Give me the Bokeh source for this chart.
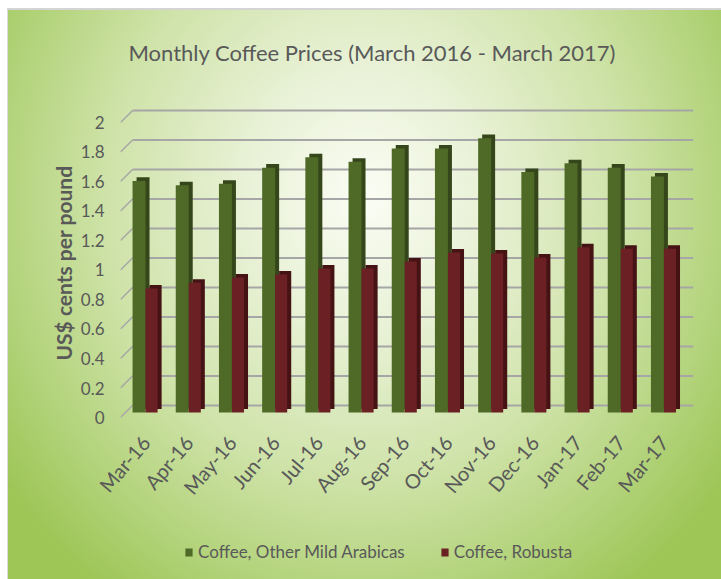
import numpy as np
from bokeh.plotting import figure
from bokeh.models import Range1d, FixedTicker, Legend, LegendItem
from bokeh.layouts import column
from bokeh.embed import file_html
from bokeh.resources import INLINE

# ---- data ----
months = ["Mar-16", "Apr-16", "May-16", "Jun-16", "Jul-16", "Aug-16", "Sep-16",
          "Oct-16", "Nov-16", "Dec-16", "Jan-17", "Feb-17", "Mar-17"]
arabicas = [1.57, 1.54, 1.55, 1.66, 1.73, 1.70, 1.79, 1.79, 1.86, 1.63, 1.69, 1.66, 1.60]
robusta = [0.84, 0.88, 0.915, 0.935, 0.976, 0.976, 1.024, 1.085, 1.078, 1.05, 1.12, 1.11, 1.11]
y_ticks = [0, 0.2, 0.4, 0.6, 0.8, 1.0, 1.2, 1.4, 1.6, 1.8, 2.0]
y_tick_labels = ["0", "0.2", "0.4", "0.6", "0.8", "1", "1.2", "1.4", "1.6", "1.8", "2"]
series_names = ["Coffee, Other Mild Arabicas", "Coffee, Robusta"]
title_text = "Monthly Coffee Prices (March 2016 - March 2017)"
y_title = "US$ cents per pound"

# ---- style ----
FONT = "Lato"
TXT = "#595959"
GREEN, GREEN_D = "#4f6a27", "#34461a"
RED, RED_D = "#6b2023", "#461315"
GRID = "#a6a6a6"

X0, X1 = -0.579, 12.685
Y0, Y1 = -0.0542, 2.149
back = 12 / 147.5          # back wall offset (value units)
x_back = -0.301            # back wall left edge
base = 5 / 147.5           # bar floor level
gw, rw = 0.30, 0.28        # face widths
dx, dy = 0.093, 0.024      # 3D depth offset


def clear(fig):
    fig.background_fill_color = None
    fig.border_fill_color = None
    fig.outline_line_color = None
    fig.grid.visible = False


# ================= main chart =================
p = figure(width=721, height=530, output_backend="svg", toolbar_location=None,
           x_range=Range1d(X0, X1), y_range=Range1d(Y0, Y1),
           min_border_left=120, min_border_right=28, min_border_top=100,
           min_border_bottom=105)
clear(p)

# title
p.title.text = title_text
p.title.align = "left"
p.title.offset = 8
p.title.standoff = 69
p.title.text_font = FONT
p.title.text_font_size = "22px"
p.title.text_font_style = "normal"
p.title.text_color = TXT

# gridlines (back wall + floor diagonals)
n = len(y_ticks)
yb = [t + back for t in y_ticks]
p.segment(x0=[x_back] * n, y0=yb, x1=[X1] * n, y1=yb, line_color=GRID, line_width=2)
p.segment(x0=[X0] * n, y0=y_ticks, x1=[x_back] * n, y1=yb, line_color=GRID, line_width=1.5)

# bars (side/top depth first, then front faces)
idx = np.arange(len(months))
a = np.array(arabicas)
r = np.array(robusta)
p.vbar(x=idx - gw / 2 + dx, width=gw, bottom=base + dy, top=a + base + dy,
       fill_color=GREEN_D, line_color=None)
p.vbar(x=idx + rw / 2 + dx, width=rw, bottom=base + dy, top=r + base + dy,
       fill_color=RED_D, line_color=None)
p.vbar(x=idx - gw / 2, width=gw, bottom=base, top=a + base,
       fill_color=GREEN, line_color=None)
p.vbar(x=idx + rw / 2, width=rw, bottom=base, top=r + base,
       fill_color=RED, line_color=None)

# axes
xa = p.xaxis[0]
xa.ticker = FixedTicker(ticks=list(range(len(months))))
xa.major_label_overrides = {i: m for i, m in enumerate(months)}
xa.major_label_orientation = 0.87
xa.axis_line_color = None
xa.major_tick_line_color = None
xa.major_tick_out = 0
xa.major_tick_in = 0
xa.minor_tick_line_color = None
xa.minor_tick_out = 0
xa.major_label_standoff = 13
xa.major_label_text_font = FONT
xa.major_label_text_font_size = "20px"
xa.major_label_text_color = TXT

ya = p.yaxis[0]
ya.ticker = FixedTicker(ticks=y_ticks)
ya.major_label_overrides = {t: s for t, s in zip(y_ticks, y_tick_labels)}
ya.axis_line_color = None
ya.major_tick_line_color = None
ya.major_tick_out = 0
ya.major_tick_in = 0
ya.minor_tick_line_color = None
ya.minor_tick_out = 0
ya.major_label_standoff = 16
ya.major_label_text_font = FONT
ya.major_label_text_font_size = "17px"
ya.major_label_text_color = TXT
ya.axis_label = y_title
ya.axis_label_text_font = FONT
ya.axis_label_text_font_style = "bold"
ya.axis_label_text_font_size = "21px"
ya.axis_label_text_color = TXT
ya.axis_label_standoff = 2

# ================= legend strip =================
q = figure(width=721, height=49, output_backend="svg", toolbar_location=None,
           x_range=Range1d(0, 1), y_range=Range1d(0, 1), min_border=0,
           x_axis_location=None, y_axis_location=None)
clear(q)
# legend keys only (degenerate bars outside the strip's visible range)
g_key = q.vbar(x=[-1.0], top=[0.0], width=0.0, fill_color=GREEN, line_color=None)
r_key = q.vbar(x=[-1.0], top=[0.0], width=0.0, fill_color=RED, line_color=None)
legend = Legend(items=[LegendItem(label=series_names[0], renderers=[g_key]),
                       LegendItem(label=series_names[1], renderers=[r_key])],
                location=(64, 17), orientation="horizontal",
                glyph_width=9, glyph_height=10, label_standoff=5, spacing=35,
                padding=0, margin=0, border_line_color=None,
                background_fill_alpha=0, label_text_font=FONT,
                label_text_font_size="17px", label_text_color=TXT)
q.add_layout(legend)

layout = column(p, q, spacing=0)
layout.styles = {
    "background": (
        "linear-gradient(#d4d4d4,#d4d4d4) 7px 8px / 714px 2px no-repeat, "
        "linear-gradient(#dcdcdc,#dcdcdc) 7px 8px / 1px 571px no-repeat, "
        "radial-gradient(ellipse 62% 85% at 50% 33%, #fbfdf5 0%, #e8f1d5 28%, "
        "#cfe3a9 58%, #b3d37b 82%, #9dc657 100%) 8px 10px / 713px 569px no-repeat, "
        "#ffffff"
    )
}

open("out.html", "w").write(file_html(layout, INLINE))
